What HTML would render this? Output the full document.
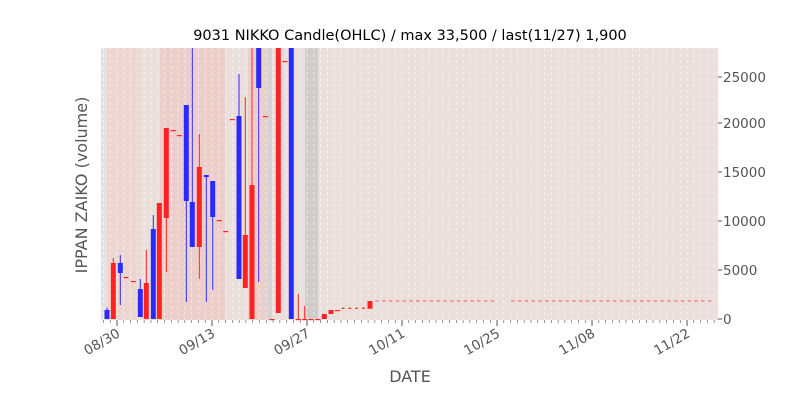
<!DOCTYPE html>
<html><head><meta charset="utf-8"><style>
body{margin:0;background:#fff;width:800px;height:400px;overflow:hidden}
svg{font-family:"DejaVu Sans","Liberation Sans",sans-serif}
</style></head><body>
<svg id="s" width="800" height="400" xmlns="http://www.w3.org/2000/svg">
<rect x="101" y="48" width="617" height="272" fill="#ebdfdb"/>
<rect x="101" y="48" width="6" height="272" fill="#e4e2e2"/>
<rect x="107" y="48" width="33" height="272" fill="#ecd6d2"/>
<rect x="160" y="48" width="65" height="272" fill="#eccfcb"/>
<rect x="248" y="48" width="17" height="272" fill="#eccfcb"/>
<rect x="265" y="48" width="7" height="272" fill="#d8d2d2"/>
<rect x="305" y="48" width="13" height="272" fill="#cfcccc"/>
<g id="grid"></g>
<g id="c"></g>
<text x="410" y="40" font-size="14.5" text-anchor="middle" fill="#000">9031 NIKKO Candle(OHLC) / max 33,500 / last(11/27) 1,900</text>
<g font-size="13.5" fill="#555">
<text x="723" y="324">0</text>
<text x="723" y="275">5000</text>
<text x="723" y="226">10000</text>
<text x="723" y="177">15000</text>
<text x="723" y="128">20000</text>
<text x="723" y="82">25000</text>
</g>
<text transform="translate(90,185) rotate(-90)" font-size="16" fill="#555" text-anchor="middle">IPPAN ZAIKO (volume)</text>
<text x="410" y="382" font-size="16" fill="#555" text-anchor="middle">DATE</text>
<g font-size="13.5" fill="#555" text-anchor="end">
<text transform="translate(121,336) rotate(-30)">08/30</text>
<text transform="translate(216,336) rotate(-30)">09/13</text>
<text transform="translate(311,336) rotate(-30)">09/27</text>
<text transform="translate(406,336) rotate(-30)">10/11</text>
<text transform="translate(501,336) rotate(-30)">10/25</text>
<text transform="translate(596,336) rotate(-30)">11/08</text>
<text transform="translate(691,336) rotate(-30)">11/22</text>
</g>
</svg>
<script>
var NS="http://www.w3.org/2000/svg",g=document.getElementById('grid'),c=document.getElementById('c');
function el(p,t,a){var e=document.createElementNS(NS,t);for(var k in a)e.setAttribute(k,a[k]);p.appendChild(e);return e}
var d=6.786;
for(var x=117-d*2;x<718;x+=d){
 el(g,'line',{x1:x,x2:x,y1:48,y2:320,stroke:'#fff','stroke-dasharray':'3,3','stroke-width':0.8,opacity:0.7});
 var maj=Math.abs(((x-117)/d)%14)<0.01||Math.abs(((x-117)/d)%14-14)<0.01;
 el(g,'line',{x1:x,x2:x,y1:320,y2:maj?326:323,stroke:'#555','stroke-width':maj?1:0.6});
}
[319,270,221,172,123,77].forEach(function(y){el(g,'line',{x1:718,x2:722,y1:y,y2:y,stroke:'#555'})});
var R='#ff2222',B='#2a2aff';
var C=[[107,310,319,307.7,319,B],[113.3,263,319,258,319,R],[120.3,263,273,255,305,B],[126,277,277,277,277,R],[133.3,281,281,281,281,R],
[140.3,289,317,279,317,B],[146.3,283,319,250,319,R],[153.3,229,319,215,319,B],[159.3,203,319,203,319,R],[166.3,128,218,128,272,R],
[173.3,130,130,130,130,R],[179.3,135,135,135,135,R],[186.3,105,201,105,302,B],[192.3,202,247,48,247,B],[199.3,167,247,134,279,R],
[206.3,175,177,175,302,B],[212.7,181,217,181,290,B],[219.3,220,220,220,220,R],[225.7,231,231,231,231,R],[232.3,119,119,119,119,R],
[239,116,279,74,279,B],[245.3,235,288,97,288,R],[252,185,319,48,319,R],[258.7,48,88,48,282,B],[265.3,116,116,116,116,R],
[272,319,319,319,319,R],[278.3,48,313,48,313,R],[285,61,61,61,61,R],[291.3,48,319,48,319,B],[298.3,319,319,294,319,R],
[304.7,319,319,306,319,R],[311,319,319,319,319,R],[318,319,319,319,319,R],[324.3,314,319,314,319,R],[331,310,314,310,314,R],[337.3,310,310,310,310,R],[370,301,308.7,301,308.7,R]];
C.forEach(function(k){
 el(c,'line',{x1:k[0],x2:k[0],y1:k[3],y2:k[4],stroke:k[5],'stroke-width':1});
 var h=Math.max(k[2]-k[1],1.2);
 el(c,'rect',{x:k[0]-2.5,y:k[1],width:5,height:h,fill:k[5]});
});
for(var x=343;x<368;x+=d)el(c,'line',{x1:x-1.5,x2:x+1.5,y1:308.3,y2:308.3,stroke:R,'stroke-width':1.2});
for(var x=377;x<716;x+=d){if(x>498&&x<506)continue;el(c,'line',{x1:x-1.8,x2:x+1.8,y1:301,y2:301,stroke:R,'stroke-width':1,opacity:0.7});}
</script>
<script>document.querySelector('text[transform^="translate(90,185)"]').setAttribute('transform','translate(87,185) rotate(-90)');</script>
</body></html>
